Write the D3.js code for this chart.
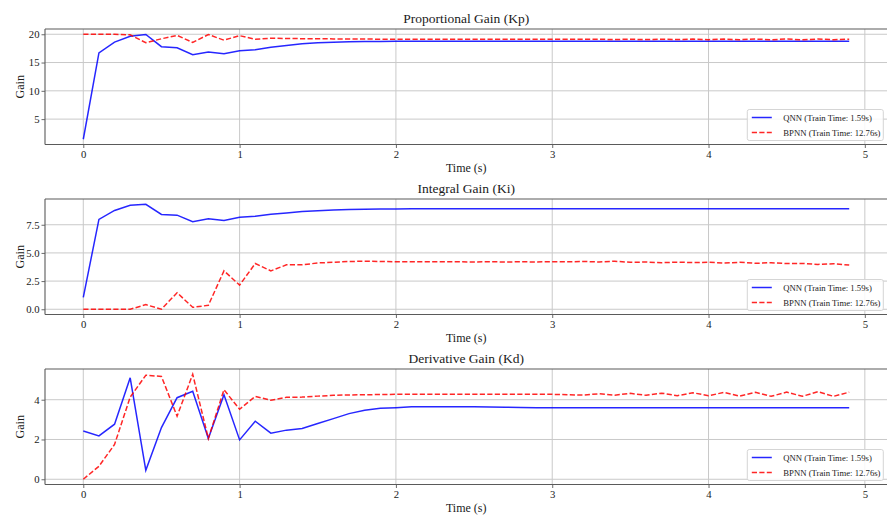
<!DOCTYPE html>
<html>
<head>
<meta charset="utf-8">
<script src="https://cdn.jsdelivr.net/npm/d3@7/dist/d3.min.js"></script>
<style>
  html, body { margin: 0; padding: 0; background: #fff; }
  svg { display: block; font-family: "Liberation Serif", "Times New Roman", serif; }
</style>
</head>
<body>
<svg id="chart" width="887" height="516"></svg>
<script>
// ---------- DATA ----------
const time = [0.0,0.1,0.2,0.3,0.4,0.5,0.6,0.7,0.8,0.9,
              1.0,1.1,1.2,1.3,1.4,1.5,1.6,1.7,1.8,1.9,
              2.0,2.1,2.2,2.3,2.4,2.5,2.6,2.7,2.8,2.9,
              3.0,3.1,3.2,3.3,3.4,3.5,3.6,3.7,3.8,3.9,
              4.0,4.1,4.2,4.3,4.4,4.5,4.6,4.7,4.8,4.9];

const kpQNN = [1.44,16.7,18.6,19.65,19.95,17.8,17.6,16.4,16.85,16.55,
               17.1,17.25,17.7,18.0,18.3,18.48,18.6,18.66,18.7,18.73,
               18.75,18.76,18.77,18.77,18.77,18.77,18.77,18.77,18.77,18.77,
               18.77,18.77,18.77,18.77,18.77,18.77,18.77,18.77,18.77,18.77,
               18.77,18.77,18.77,18.77,18.77,18.77,18.77,18.77,18.77,18.77];
const kpBPNN = [20.0,20.0,20.0,19.9,18.5,19.2,19.8,18.55,19.95,18.95,
                19.75,19.1,19.3,19.25,19.22,19.2,19.18,19.16,19.15,19.13,
                19.12,19.1,19.1,19.1,19.1,19.1,19.1,19.1,19.1,19.1,
                19.1,19.1,19.1,19.12,19.06,19.13,19.05,19.13,19.05,19.14,
                19.04,19.14,19.04,19.15,19.04,19.15,19.03,19.15,19.04,19.12];

const kiQNN = [1.06,7.97,8.77,9.23,9.32,8.41,8.35,7.77,8.03,7.88,
               8.17,8.26,8.44,8.55,8.67,8.74,8.82,8.85,8.88,8.89,
               8.9,8.91,8.91,8.91,8.91,8.91,8.91,8.91,8.91,8.91,
               8.91,8.91,8.91,8.91,8.91,8.91,8.91,8.91,8.91,8.91,
               8.91,8.91,8.91,8.91,8.91,8.91,8.91,8.91,8.91,8.91];
const kiBPNN = [0.0,0.0,0.0,0.0,0.41,0.0,1.47,0.17,0.35,3.41,
                2.14,4.06,3.41,3.94,3.94,4.11,4.17,4.24,4.26,4.24,
                4.22,4.22,4.21,4.21,4.21,4.2,4.21,4.2,4.21,4.2,
                4.22,4.21,4.24,4.2,4.26,4.17,4.19,4.13,4.18,4.14,
                4.17,4.1,4.17,4.08,4.13,4.05,4.07,3.98,4.04,3.92];

const kdQNN = [2.43,2.18,2.77,5.1,0.45,2.6,4.1,4.42,2.05,4.25,
               1.98,2.92,2.32,2.47,2.55,2.8,3.05,3.3,3.47,3.57,
               3.6,3.64,3.65,3.65,3.65,3.64,3.63,3.62,3.61,3.6,
               3.6,3.59,3.59,3.59,3.59,3.59,3.59,3.59,3.59,3.59,
               3.59,3.59,3.59,3.59,3.59,3.59,3.59,3.59,3.59,3.6];
const kdBPNN = [0.0,0.65,1.75,4.13,5.23,5.17,3.17,5.28,2.05,4.5,
                3.52,4.17,3.97,4.12,4.13,4.18,4.22,4.24,4.25,4.26,
                4.27,4.27,4.27,4.27,4.27,4.27,4.27,4.27,4.27,4.27,
                4.27,4.25,4.23,4.3,4.23,4.32,4.22,4.33,4.2,4.35,
                4.2,4.37,4.18,4.37,4.17,4.38,4.17,4.4,4.17,4.38];

const titles = ["Proportional Gain (Kp)", "Integral Gain (Ki)", "Derivative Gain (Kd)"];
const xTicks = [0, 1, 2, 3, 4, 5];
const yTicksKp = [5, 10, 15, 20];
const yTicksKi = [0.0, 2.5, 5.0, 7.5];
const yTicksKd = [0, 2, 4];
const seriesNames = ["QNN (Train Time: 1.59s)", "BPNN (Train Time: 12.76s)"];

// ---------- LAYOUT ----------
const svg = d3.select("#chart");
const left = 45, plotW = 842.5, plotH = 115.5;
const tops = [29, 199, 369];

const panels = [
  {title: titles[0], qnn: kpQNN, bp: kpBPNN, ticks: yTicksKp, fmt: d3.format("d")},
  {title: titles[1], qnn: kiQNN, bp: kiBPNN, ticks: yTicksKi, fmt: d3.format(".1f")},
  {title: titles[2], qnn: kdQNN, bp: kdBPNN, ticks: yTicksKd, fmt: d3.format("d")}
];

const xMin = d3.min(time), xMax = d3.max(time), xPad = (xMax - xMin) * 0.05;
const x = d3.scaleLinear().domain([xMin - xPad, xMax + xPad]).range([0, plotW]);

const textColor = "#1a1a1a";
const gridColor = "#c9c9c9";
const spineColor = "#5a5a5a";

panels.forEach((p, i) => {
  const g = svg.append("g").attr("transform", `translate(${left},${tops[i]})`);
  const all = p.qnn.concat(p.bp);
  const yMin = d3.min(all), yMax = d3.max(all), yPad = (yMax - yMin) * 0.05;
  const y = d3.scaleLinear().domain([yMin - yPad, yMax + yPad]).range([plotH, 0]);

  // grid
  g.append("g").selectAll("line.gx").data(xTicks).join("line")
    .attr("x1", d => x(d)).attr("x2", d => x(d))
    .attr("y1", 0).attr("y2", plotH)
    .attr("stroke", gridColor).attr("stroke-width", 1);
  g.append("g").selectAll("line.gy").data(p.ticks).join("line")
    .attr("x1", 0).attr("x2", plotW)
    .attr("y1", d => y(d)).attr("y2", d => y(d))
    .attr("stroke", gridColor).attr("stroke-width", 1);

  // axes
  const xAxis = d3.axisBottom(x).tickValues(xTicks).tickSize(3.5).tickPadding(2.5).tickFormat(d3.format("d"));
  const gx = g.append("g").attr("transform", `translate(0,${plotH})`).call(xAxis);
  const yAxis = d3.axisLeft(y).tickValues(p.ticks).tickSize(3.5).tickPadding(2).tickFormat(p.fmt);
  const gy = g.append("g").call(yAxis);
  [gx, gy].forEach(a => {
    a.select(".domain").remove();
    a.selectAll(".tick line").attr("stroke", spineColor).attr("stroke-width", 0.9);
    a.selectAll(".tick text").attr("fill", textColor)
      .style("font-family", "'Liberation Serif', 'Times New Roman', serif")
      .style("font-size", "10.7px");
  });

  // spines (right spine lies outside the visible picture)
  const spines = [
    [0, 0, plotW + 2, 0],
    [0, plotH, plotW + 2, plotH],
    [0, 0, 0, plotH]
  ];
  g.append("g").selectAll("line").data(spines).join("line")
    .attr("x1", d => d[0]).attr("y1", d => d[1]).attr("x2", d => d[2]).attr("y2", d => d[3])
    .attr("stroke", spineColor).attr("stroke-width", 1.1);

  // lines
  const line = d3.line().x((d, j) => x(time[j])).y(d => y(d));
  g.append("path").datum(p.qnn).attr("d", line)
    .attr("fill", "none").attr("stroke", "#0000ff").attr("stroke-opacity", 0.85)
    .attr("stroke-width", 1.5);
  g.append("path").datum(p.bp).attr("d", line)
    .attr("fill", "none").attr("stroke", "#ff0000").attr("stroke-opacity", 0.85)
    .attr("stroke-width", 1.5).attr("stroke-dasharray", "5.2,2.3");

  // title
  g.append("text").attr("x", plotW / 2).attr("y", -6)
    .attr("text-anchor", "middle").attr("fill", textColor)
    .style("font-size", "13.5px").text(p.title);
  // x label
  g.append("text").attr("x", plotW / 2).attr("y", plotH + 27.5)
    .attr("text-anchor", "middle").attr("fill", textColor)
    .style("font-size", "12px").text("Time (s)");
  // y label
  g.append("text").attr("transform", `translate(${24 - left},${plotH / 2}) rotate(-90)`)
    .attr("text-anchor", "middle").attr("fill", textColor)
    .style("font-size", "12px").text("Gain");

  // legend
  const lw = 136, lh = 31;
  const lg = g.append("g").attr("transform", `translate(${plotW - 4.2 - lw},${plotH - 4 - lh})`);
  lg.append("rect").attr("width", lw).attr("height", lh).attr("rx", 2)
    .attr("fill", "#fff").attr("fill-opacity", 0.85)
    .attr("stroke", "#d0d0d0").attr("stroke-width", 0.9);
  const items = [
    {name: seriesNames[0], color: "#0000ff", dash: null},
    {name: seriesNames[1], color: "#ff0000", dash: "5.2,2.3"}
  ];
  items.forEach((it, k) => {
    const cy = 8 + k * 15;
    lg.append("line").attr("x1", 4.5).attr("x2", 24.5).attr("y1", cy).attr("y2", cy)
      .attr("stroke", it.color).attr("stroke-opacity", 0.85).attr("stroke-width", 1.5)
      .attr("stroke-dasharray", it.dash);
    lg.append("text").attr("x", 36).attr("y", cy + 3)
      .attr("fill", textColor).style("font-size", "8.7px").text(it.name);
  });
});
</script>
</body>
</html>
